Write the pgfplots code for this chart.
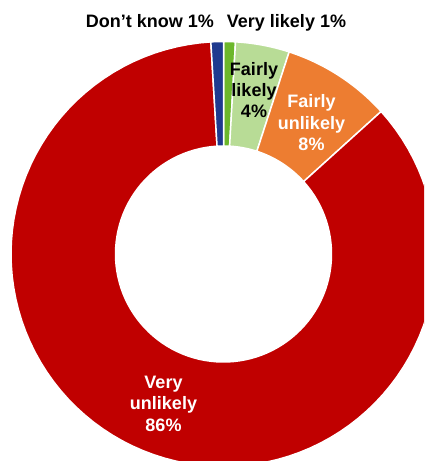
\documentclass[border=0pt]{standalone}
\usepackage{pgfplots}
\pgfplotsset{compat=1.18}
\usepackage{fontspec}
\setmainfont{Liberation Sans}
\definecolor{cRed}{HTML}{C00000}
\definecolor{cOrange}{HTML}{ED7D31}
\definecolor{cLGreen}{HTML}{B8DC96}
\definecolor{cGreen}{HTML}{6CB72B}
\definecolor{cBlue}{HTML}{1F3A8F}
% slice: colour, cumulative start (%), cumulative end (%)
\newcommand{\slice}[3]{%
  \addplot[fill=#1, draw=white, line width=1.5pt, line join=round,
    domain=0:201, samples=202, variable=\t]
  ({223.5 + (\t<100.5 ? 212.5 : 108) * sin(3.6*(#2 + (#3-#2)*(\t<100.5 ? \t/100 : (201-\t)/100)))},
   {254 - (\t<100.5 ? 212.5 : 108) * cos(3.6*(#2 + (#3-#2)*(\t<100.5 ? \t/100 : (201-\t)/100)))}) -- cycle;
}
\begin{document}
\begin{tikzpicture}
\begin{axis}[at={(0,0)}, anchor=south west, scale only axis,
  width=424pt, height=461pt, xmin=0, xmax=424, ymin=0, ymax=461,
  y dir=reverse, hide axis, clip=true]
% Very likely 0.9, Fairly likely 4.1, Fairly unlikely 8.3, Very unlikely 85.75, Don't know 0.95
\slice{cGreen}{0}{0.9}
\slice{cLGreen}{0.9}{5.0}
\slice{cOrange}{5.0}{13.3}
\slice{cRed}{13.3}{99.05}
\slice{cBlue}{99.05}{100}
\begin{scope}[every node/.style={anchor=base, inner sep=0pt, font=\fontsize{18}{22}\selectfont\bfseries}]
\node at (axis cs:150,27) {Don't know 1\%};
\node at (axis cs:286.5,27) {Very likely 1\%};
\node at (axis cs:254,75) {Fairly};
\node at (axis cs:254,96.5) {likely};
\node at (axis cs:254,117.5) {4\%};
\node[text=white] at (axis cs:311.5,107.5) {Fairly};
\node[text=white] at (axis cs:311.5,129) {unlikely};
\node[text=white] at (axis cs:311.5,150) {8\%};
\node[text=white] at (axis cs:163.5,388) {Very};
\node[text=white] at (axis cs:163.5,409.5) {unlikely};
\node[text=white] at (axis cs:163.5,431) {86\%};
\end{scope}
\end{axis}
\pgfresetboundingbox
\path (0,0) rectangle (424pt,461pt);
\end{tikzpicture}
\end{document}
